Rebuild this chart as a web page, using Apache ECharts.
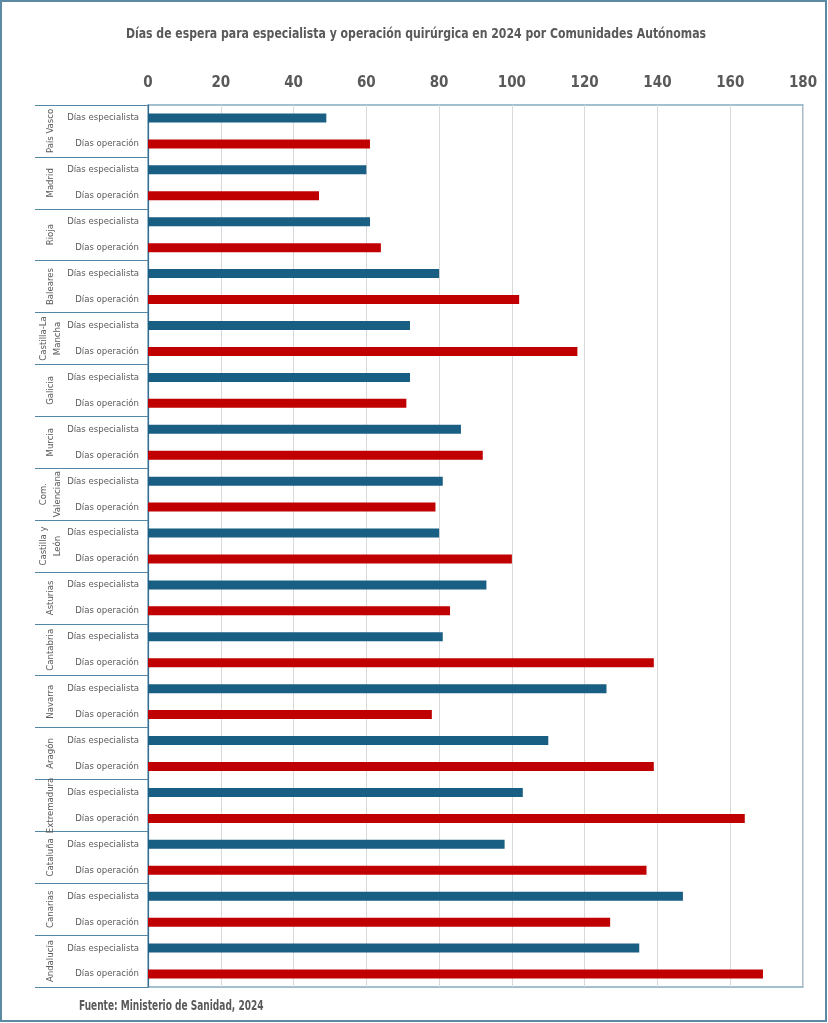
<!DOCTYPE html>
<html>
<head>
<meta charset="utf-8">
<script src="https://cdn.jsdelivr.net/npm/echarts@6/dist/echarts.min.js"></script>
<style>
html,body{margin:0;padding:0;background:#fff;}
#c{width:828px;height:1023px;}
</style>
</head>
<body>
<div id="c"></div>
<script>
const regions = ['País Vasco','Madrid','Rioja','Baleares','Castilla-La\nMancha','Galicia','Murcia','Com.\nValenciana','Castilla y\nLeón','Asturias','Cantabria','Navarra','Aragón','Extremadura','Cataluña','Canarias','Andalucía'];
const subLabels = ['Días especialista','Días operación'];
const diasEspecialista = [49,60,61,80,72,72,86,81,80,93,81,126,110,103,98,147,135];
const diasOperacion   = [61,47,64,102,118,71,92,79,100,83,139,78,139,164,137,127,169];
const xTicks = {min:0, max:180, interval:20};
const titleText = 'Días de espera para especialista y operación quirúrgica en 2024 por Comunidades Autónomas';
const sourceText = 'Fuente: Ministerio de Sanidad, 2024';

const FONT = "'Liberation Sans Narrow','DejaVu Sans Condensed',Roboto,sans-serif";

const subCats = [];
const espData = [];
const opData = [];
regions.forEach((r,i)=>{
  subCats.push(subLabels[0]); subCats.push(subLabels[1]);
  espData.push(diasEspecialista[i]); espData.push(null);
  opData.push(null); opData.push(diasOperacion[i]);
});

const chart = echarts.init(document.getElementById('c'));
chart.setOption({
  animation:false,
  backgroundColor:'#ffffff',
  grid:{left:148,right:25,top:105,bottom:36,show:true,borderColor:'#86abc1',borderWidth:1.5,containLabel:false},
  xAxis:{
    type:'value', position:'top', min:xTicks.min, max:xTicks.max, interval:xTicks.interval,
    axisLine:{show:false}, axisTick:{show:false},
    axisLabel:{fontFamily:FONT,fontSize:15,fontWeight:'bold',color:'#595959',margin:14},
    splitLine:{lineStyle:{color:'#d9d9d9',width:1}}
  },
  yAxis:[
    {
      type:'category', data:subCats, inverse:true, position:'left',
      axisLine:{show:true,lineStyle:{color:'#336d90',width:1.2}},
      axisTick:{show:false},
      axisLabel:{interval:0,fontFamily:FONT,fontSize:9.5,color:'#595959',margin:9}
    },
    {
      type:'category', data:regions, inverse:true, position:'left', offset:0,
      axisLine:{show:false},
      axisTick:{show:true,length:113,interval:0,lineStyle:{color:'#5287a6',width:1.2}},
      axisLabel:{interval:0,rotate:90,verticalAlign:'middle',fontFamily:FONT,fontSize:9.5,color:'#595959',margin:97,lineHeight:14}
    }
  ],
  series:[
    {name:'Días especialista',type:'bar',yAxisIndex:0,data:espData,barWidth:9,barGap:'-100%',
     itemStyle:{color:'#195e83'}},
    {name:'Días operación',type:'bar',yAxisIndex:0,data:opData,barWidth:9,barGap:'-100%',
     itemStyle:{color:'#c00000'}}
  ],
  graphic:[
    {type:'rect',shape:{x:1,y:1,width:825,height:1020},style:{fill:'none',stroke:'#5b8aa2',lineWidth:2},silent:true},
    {type:'text',x:416,y:34,scaleX:0.866,
     style:{text:titleText,fontFamily:FONT,fontSize:14,fontWeight:'bold',fill:'#595959',align:'center',verticalAlign:'middle'}},
    {type:'text',x:79,y:1006,scaleX:0.716,
     style:{text:sourceText,fontFamily:FONT,fontSize:14,fontWeight:'bold',fill:'#595959',align:'left',verticalAlign:'middle'}}
  ]
});
</script>
</body>
</html>
